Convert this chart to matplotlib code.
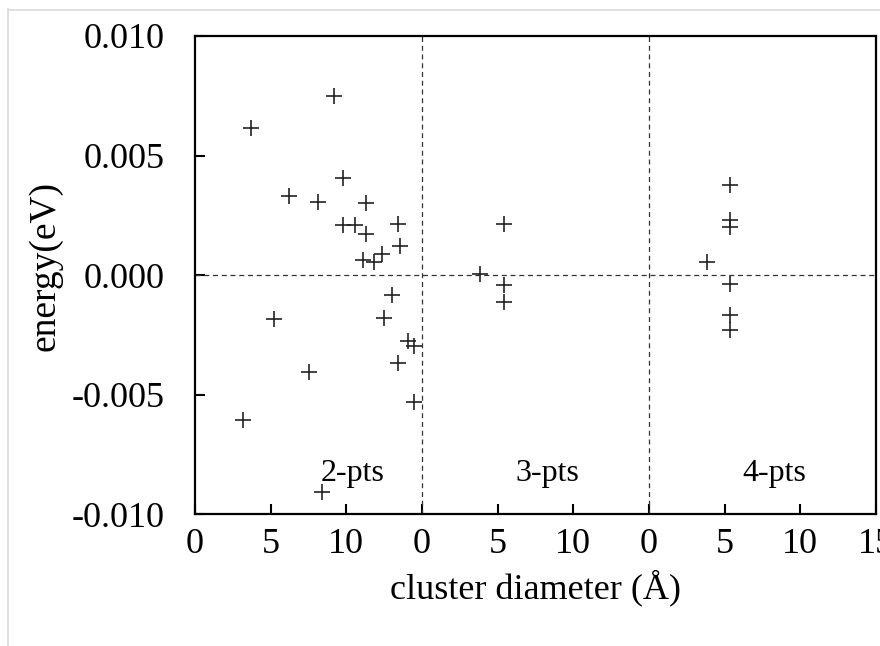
import numpy as np
import matplotlib
matplotlib.use("Agg")
import matplotlib.pyplot as plt
from matplotlib.lines import Line2D

plt.rcParams['font.family'] = ['Liberation Serif', 'DejaVu Serif']

# cluster diameter (A) and energy (eV) for each group
d2 = [9.2, 3.7, 9.75, 6.2, 8.15, 11.3, 9.75, 10.6, 11.3, 13.4, 13.55, 11.1, 11.85, 12.35,
      13.0, 12.5, 5.25, 14.05, 14.45, 13.4, 7.5, 14.45, 3.2, 8.4]
e2 = [0.0075, 0.00614, 0.00407, 0.00332, 0.00305, 0.0030, 0.00208, 0.00208, 0.00172, 0.00216,
      0.00121, 0.00063, 0.00056, 0.00088, -0.00081, -0.00177, -0.00181, -0.00276, -0.00294,
      -0.00367, -0.00405, -0.00531, -0.00607, -0.00907]
d3 = [5.4, 3.85, 5.4, 5.4]
e3 = [0.00215, 0.00004, -0.00042, -0.00112]
d4 = [5.35, 5.35, 5.35, 3.8, 5.35, 5.35, 5.35]
e4 = [0.00377, 0.00229, 0.00201, 0.00056, -0.00038, -0.00167, -0.0023]
groups = ["2-pts", "3-pts", "4-pts"]
width = 15.0
xticks = np.arange(0, 46, 5)
xlabels = ["0", "5", "10", "0", "5", "10", "0", "5", "10", "15"]

fig = plt.figure(figsize=(8.8, 6.46), dpi=100)
ax = fig.add_axes([0.2216, 0.2036, 0.7739, 0.7407])

for i, (d, e) in enumerate([(d2, e2), (d3, e3), (d4, e4)]):
    ax.plot(np.array(d) + i * width, e, ls="none", marker="+", ms=11, mew=1.2, color="#222222")

for i in range(1, 3):
    ax.axvline(i * width, color="#333333", lw=0.9, ls=(0, (4, 3)))
ax.axhline(0, color="#333333", lw=0.9, ls=(0, (4, 3)))

ax.text(8.3, -0.0083, groups[0], fontsize=23, va="center")
ax.text(width + 6.2, -0.0083, groups[1], fontsize=23, va="center")
ax.text(2 * width + 6.2, -0.0083, groups[2], fontsize=23, va="center")

ax.set_xlim(0, 45)
ax.set_ylim(-0.01, 0.01)
ax.set_xticks(xticks)
ax.set_xticklabels(xlabels)
ax.set_yticks([-0.01, -0.005, 0, 0.005, 0.01])
ax.set_yticklabels(["-0.010", "-0.005", "0.000", "0.005", "0.010"])
ax.tick_params(direction="in", length=7, width=1.5, labelsize=26)
ax.tick_params(axis="x", pad=10)
ax.tick_params(axis="y", pad=22)
for s in ax.spines.values():
    s.set_linewidth(1.6)
ax.set_xlabel("cluster diameter (Å)", fontsize=26, labelpad=6)
ax.set_ylabel("energy(eV)", fontsize=27)
ax.yaxis.set_label_coords(-0.194, 0.52)

# faint frame of the picture
fig.add_artist(Line2D([7.5 / 880, 7.5 / 880], [0, 1 - 9 / 646], transform=fig.transFigure, color="#d9d9d9", lw=1.2))
fig.add_artist(Line2D([7.5 / 880, 1], [1 - 9.5 / 646, 1 - 9.5 / 646], transform=fig.transFigure, color="#d9d9d9", lw=1.2))

fig.savefig("out.png", dpi=100)
